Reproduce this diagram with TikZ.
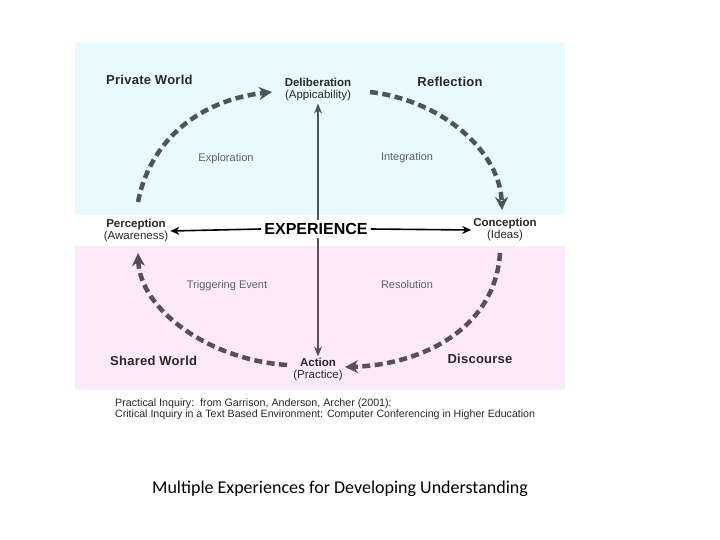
\documentclass[tikz,border=0pt]{standalone}
\usepackage{fontspec}
\setmainfont{Liberation Sans}
\newfontfamily\calibfont{Carlito}
\usetikzlibrary{arrows.meta}
\definecolor{skyband}{RGB}{232,250,252}
\definecolor{pinkband}{RGB}{252,234,252}
\definecolor{slate}{RGB}{72,88,90}
\definecolor{mauve}{RGB}{92,76,92}
\definecolor{ink}{RGB}{40,40,40}
\definecolor{soft}{RGB}{95,95,95}
\begin{document}
\begin{tikzpicture}[x=1pt,y=-1pt,
  lbl/.style={font=\fontsize{11.5}{12}\selectfont, text=ink, align=center, inner sep=2pt},
  world/.style={font=\fontsize{13}{15}\selectfont\bfseries\addfontfeature{LetterSpace=2}, text=ink, inner sep=0pt},
  phase/.style={font=\fontsize{11}{13}\selectfont, text=soft, inner sep=0pt},
  cyc/.style={line width=4.5pt, dash pattern=on 8pt off 4.5pt, -{Stealth[length=13pt,width=13pt]}},
  axis/.style={line width=2pt, -{Stealth[length=10pt,width=8pt]}},
  horiz/.style={line width=1.6pt, black, -{Stealth[length=9pt,width=8pt]}},
  cite/.style={font=\fontsize{10.7}{12}\selectfont, text=ink, anchor=west, inner sep=0pt}
]
\useasboundingbox (0,0) rectangle (720,540);
\fill[white] (0,0) rectangle (720,540);
\fill[skyband] (75,42) rectangle (565,215);
\fill[pinkband] (75,246) rectangle (565,390);

% world labels
\node[world, anchor=west] (pw) at (106,80) {Private World};
\node[world] (refl) at (450,82) {Reflection};
\node[world, anchor=west] (sw) at (110,361) {Shared World};
\node[world] (disc) at (480,359) {Discourse};

% phase labels
\node[phase] (expl) at (226,159) {Exploration};
\node[phase] (integ) at (407,158) {Integration};
\node[phase] (trig) at (227,286) {Triggering Event};
\node[phase] (resol) at (407,285) {Resolution};

% poles
\node[lbl] (delib) at (318,90) {\textbf{Deliberation}\\(Appicability)};
\node[lbl] (perc) at (136,231) {\textbf{Perception}\\(Awareness)};
\node[lbl] (conc) at (505,230) {\textbf{Conception}\\(Ideas)};
\node[lbl] (action) at (318,370) {\textbf{Action}\\(Practice)};
\node[font=\fontsize{16}{18}\selectfont\bfseries, text=black, inner sep=3pt] (exp) at (316,229) {EXPERIENCE};

% axes
\draw[axis, slate] (delib.south |- exp.north) -- (delib.south);
\draw[axis, mauve] (action.north |- exp.south) -- (action.north);
\draw[horiz] (exp.west) -- (perc.east);
\draw[horiz] (exp.east) -- (conc.west);

% cycle arc end points
\coordinate (a1s) at (138,202);
\coordinate (a1e) at (272,92);
\coordinate (a2s) at (370,92);
\coordinate (a2e) at (502,210);
\coordinate (a3s) at (500,253);
\coordinate (a3e) at (345,367);
\coordinate (a4s) at (287,365);
\coordinate (a4e) at (138,253);

\draw[cyc, slate] (a1s) .. controls (150,140) and (200,100) .. (a1e);
\draw[cyc, slate] (a2s) .. controls (440,100) and (500,150) .. (a2e);
\draw[cyc, mauve] (a3s) .. controls (495,330) and (420,365) .. (a3e);
\draw[cyc, mauve] (a4s) .. controls (210,360) and (140,310) .. (a4e);

% citation
\node[cite] (cit1) at (115,404) {Practical Inquiry:\ \ from Garrison, Anderson, Archer (2001):};
\node[cite, font=\fontsize{10.6}{12}\selectfont] (cit2) at (115,415) {Critical Inquiry in a Text Based Environment: Computer Conferencing in Higher Education};

\node[font=\calibfont\fontsize{18}{20}\selectfont, text=black] (title) at (340,489) {Multiple Experiences for Developing Understanding};
\end{tikzpicture}
\end{document}
